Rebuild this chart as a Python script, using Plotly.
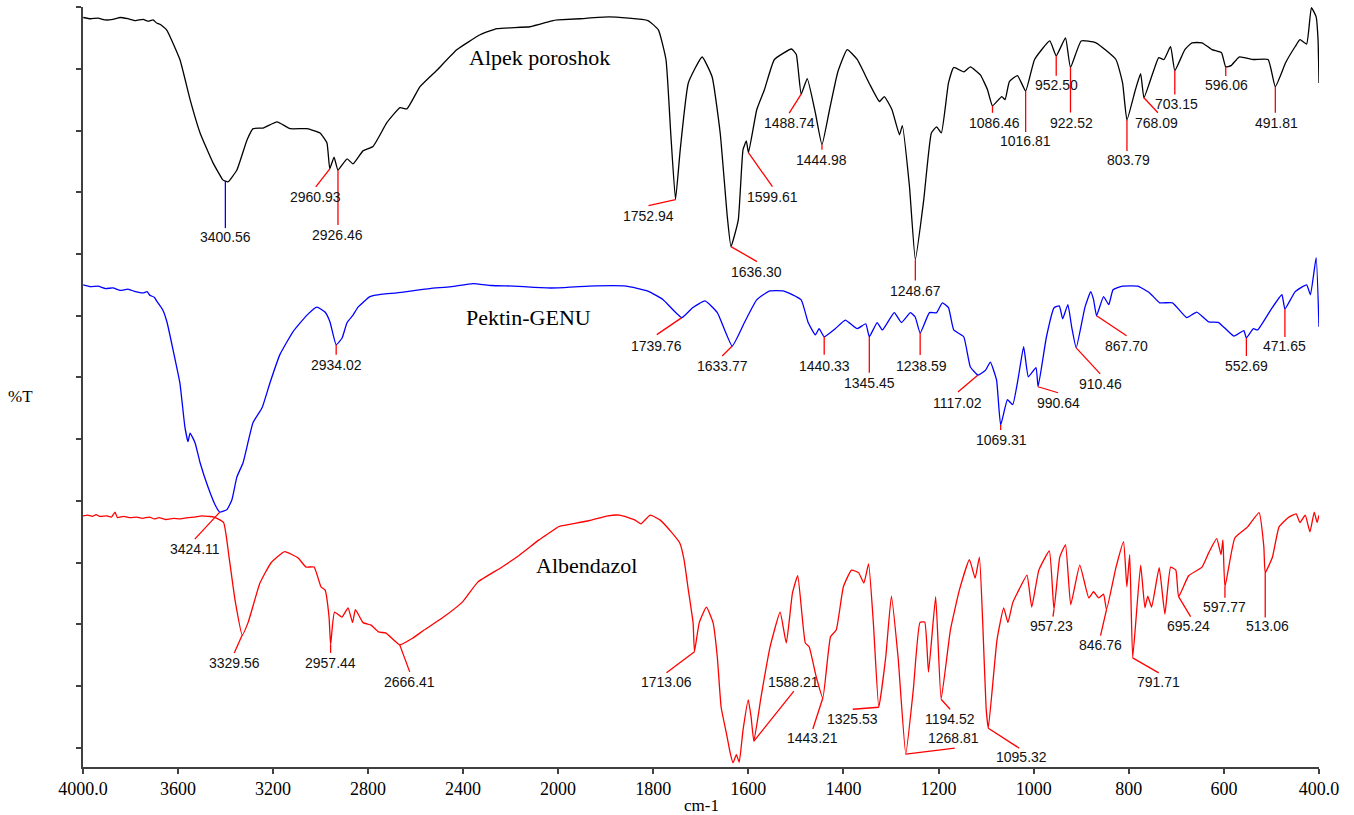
import numpy as np
import plotly.graph_objects as go

# FTIR spectra: (wavenumber cm-1, %T) pairs, spectra stacked with vertical offsets
ALPEK = [
    (3999, 118.3), (3968, 118.1), (3937, 118.2), (3905, 117.9), (3874, 118.0), (3843, 118.3),
    (3811, 118.1), (3779, 117.8), (3747, 118.0), (3725, 117.7), (3705, 117.9), (3690, 117.4),
    (3676, 117.2), (3648, 116.3), (3592, 111.5), (3549, 105.0), (3507, 99.6), (3453, 94.8),
    (3411, 92.0), (3400.56, 91.8), (3389, 91.7), (3352, 93.6), (3309, 98.5), (3284, 100.3),
    (3242, 100.4), (3183, 101.4), (3128, 100.3), (3057, 100.3), (3002, 99.6), (2973, 98.0),
    (2960.93, 93.8), (2943, 95.7), (2926.46, 93.6), (2888, 95.4), (2863, 94.6), (2821, 96.7),
    (2779, 97.4), (2720, 101.3), (2665, 103.7), (2636, 103.5), (2581, 107.1), (2509, 109.8),
    (2425, 113.1), (2328, 115.5), (2257, 116.5), (2118, 116.8), (2021, 117.8), (2000, 117.9),
    (1954, 118.1), (1893, 118.4), (1811, 117.8), (1789, 116.3), (1773, 111.5), (1763, 99.6),
    (1752.94, 88.8), (1743, 96.9), (1726, 107.7), (1697, 111.9), (1676, 108.7), (1659, 99.6),
    (1644, 86.0), (1636.30, 81.2), (1621, 85.5), (1611, 96.9), (1604, 98.3), (1599.61, 96.4),
    (1582, 103.4), (1566, 106.6), (1545, 111.5), (1509, 113.2), (1499, 112.3), (1488.74, 105.9),
    (1476, 108.4), (1459, 102.9), (1444.98, 97.7), (1429, 103.4), (1412, 109.4), (1392, 113.1),
    (1371, 111.5), (1346, 107.7), (1324, 104.7), (1314, 105.5), (1298, 103.4), (1282, 99.3),
    (1276, 100.8), (1261, 90.9), (1248.67, 79.1), (1231, 88.8), (1215, 99.6), (1204, 100.6),
    (1194, 99.6), (1179, 107.7), (1168, 110.2), (1147, 109.5), (1133, 110.3), (1112, 109.0),
    (1097, 106.6), (1086.46, 104.0), (1067, 105.5), (1060, 105.0), (1051, 107.9), (1034, 108.9),
    (1016.81, 106.4), (998, 111.5), (966, 114.5), (952.50, 112.1), (933, 115.0), (922.52, 110.2),
    (900, 114.5), (869, 114.2), (827, 111.5), (813, 107.7), (803.79, 101.7), (786, 106.6),
    (775, 109.2), (768.09, 105.3), (749, 109.4), (737, 111.8), (726, 111.5), (712, 113.6),
    (703.15, 109.7), (682, 113.1), (667, 114.2), (646, 114.2), (625, 113.1), (605, 112.6),
    (596.06, 110.3), (585, 110.5), (568, 111.9), (538, 111.5), (507, 111.5), (491.81, 107.1),
    (470, 111.0), (450, 113.6), (440, 114.7), (426, 114.0), (416, 119.9), (406, 118.4),
    (402, 114.7), (400, 107.7),
]

PEKTIN = [
    (3999, 75.0), (3968, 74.7), (3937, 74.8), (3905, 74.4), (3874, 74.5), (3843, 74.1),
    (3811, 74.3), (3779, 73.9), (3747, 73.7), (3730, 73.9), (3718, 73.3), (3700, 73.0),
    (3688, 72.3), (3665, 71.0), (3646, 68.9), (3621, 64.5), (3592, 59.1), (3571, 52.0),
    (3558, 49.6), (3549, 51.0), (3528, 49.4), (3507, 46.2), (3474, 42.3), (3444, 39.4),
    (3424.11, 38.2), (3394, 38.6), (3373, 40.2), (3352, 43.9), (3326, 46.2), (3284, 52.7),
    (3246, 55.1), (3213, 59.1), (3171, 63.7), (3116, 67.4), (3057, 70.1), (3015, 71.4),
    (2981, 70.6), (2960, 69.0), (2934.02, 65.3), (2909, 66.4), (2888, 68.9), (2863, 70.1),
    (2842, 71.4), (2792, 73.1), (2740, 73.5), (2678, 73.7), (2600, 74.1), (2539, 74.4),
    (2450, 74.7), (2358, 75.2), (2280, 74.9), (2189, 74.8), (2100, 74.6), (2046, 74.5),
    (2000, 74.5), (1935, 74.8), (1857, 74.8), (1811, 74.0), (1779, 72.6), (1739.76, 69.7),
    (1717, 71.3), (1691, 72.4), (1665, 70.5), (1633.77, 65.1), (1608, 68.9), (1582, 72.6),
    (1556, 74.0), (1525, 74.0), (1489, 72.6), (1474, 68.9), (1459, 66.9), (1451, 67.9),
    (1440.33, 66.6), (1417, 67.9), (1396, 69.3), (1371, 67.9), (1353, 68.7), (1345.45, 66.6),
    (1329, 68.9), (1318, 67.7), (1293, 70.5), (1278, 68.9), (1259, 70.5), (1249, 69.8),
    (1238.59, 67.2), (1219, 70.5), (1204, 70.5), (1192, 72.1), (1179, 71.3), (1168, 67.7),
    (1147, 66.6), (1133, 61.7), (1117.02, 60.4), (1101, 61.2), (1091, 62.5), (1078, 59.6),
    (1069.31, 52.3), (1055, 56.4), (1044, 55.6), (1032, 60.1), (1021, 65.0), (1011, 60.1),
    (995, 61.6), (990.64, 58.5), (973, 66.6), (957, 71.3), (946, 71.6), (939, 69.5),
    (928, 71.8), (920, 68.2), (910.46, 64.8), (892, 71.4), (880, 73.9), (874, 72.6),
    (867.70, 70.0), (853, 73.1), (842, 71.8), (833, 74.2), (813, 74.8), (781, 74.8),
    (756, 73.7), (735, 72.1), (708, 72.1), (678, 69.7), (657, 70.6), (632, 69.0),
    (611, 68.9), (579, 66.7), (558, 67.6), (552.69, 66.4), (538, 67.9), (529, 67.7),
    (501, 71.0), (478, 73.4), (471.65, 71.1), (450, 73.9), (426, 75.0), (418, 73.4),
    (406, 79.4), (400, 68.2),
]

ALBENDAZOL = [
    (4000, 37.6), (3980, 37.7), (3960, 37.5), (3945, 37.8), (3930, 37.5), (3900, 37.6),
    (3880, 37.4), (3865, 38.2), (3855, 37.3), (3830, 37.5), (3800, 37.3), (3775, 37.4),
    (3750, 37.2), (3720, 37.4), (3700, 37.1), (3680, 37.3), (3650, 37.0), (3620, 37.2),
    (3590, 37.1), (3560, 37.3), (3530, 37.4), (3500, 37.6), (3470, 37.5), (3448, 37.4),
    (3408, 36.5), (3385, 30.9), (3360, 24.0), (3329.56, 18.3), (3305, 20.3), (3255, 26.7),
    (3208, 30.0), (3151, 31.8), (3095, 30.8), (3061, 29.3), (3027, 29.3), (2998, 26.1),
    (2981, 25.6), (2964, 21.2), (2957.44, 16.7), (2941, 22.0), (2910, 21.2), (2884, 22.7),
    (2865, 20.3), (2853, 22.4), (2821, 20.3), (2787, 19.9), (2756, 18.8), (2724, 18.6),
    (2666.41, 16.7), (2611, 17.8), (2564, 19.1), (2482, 21.2), (2401, 23.7), (2337, 26.9),
    (2240, 29.2), (2160, 31.3), (2080, 33.7), (2000, 35.8), (1992, 36.0), (1935, 36.8),
    (1895, 37.6), (1870, 37.7), (1838, 36.9), (1826, 36.3), (1806, 37.7), (1785, 36.9),
    (1762, 35.0), (1744, 33.2), (1735, 30.5), (1726, 25.6), (1716, 20.3), (1713.06, 15.6),
    (1703, 20.3), (1688, 22.8), (1674, 20.3), (1665, 14.7), (1657, 6.6), (1646, 2.4),
    (1638, -0.8), (1632, -2.4), (1625, -1.1), (1619, -2.3), (1611, 2.9), (1600, 7.8),
    (1594, 5.0), (1588.21, 1.1), (1573, 8.3), (1554, 16.4), (1533, 22.0), (1520, 17.0),
    (1507, 25.1), (1496, 27.9), (1480, 17.0), (1472, 16.4), (1457, 11.5), (1443.21, 8.1),
    (1427, 18.0), (1415, 19.1), (1400, 26.1), (1383, 28.8), (1368, 28.4), (1357, 26.7),
    (1347, 29.8), (1337, 20.3), (1325.53, 6.6), (1311, 14.7), (1299, 24.6), (1285, 14.7),
    (1268.81, -1.0), (1253, 9.4), (1239, 20.3), (1229, 20.4), (1221, 12.3), (1206, 24.5),
    (1194.52, 7.9), (1175, 19.1), (1156, 25.6), (1135, 30.5), (1123, 27.5), (1114, 30.9),
    (1107, 20.3), (1100, 6.6), (1095.32, 3.2), (1077, 17.5), (1063, 22.7), (1054, 20.3),
    (1044, 23.5), (1031, 25.6), (1014, 28.0), (1004, 22.8), (989, 28.8), (967, 31.9),
    (957.23, 22.4), (945, 30.9), (933, 32.9), (922, 23.2), (903, 29.6), (884, 24.3),
    (874, 25.3), (863, 24.3), (853, 24.9), (846.76, 22.4), (827, 29.2), (811, 33.4),
    (804, 26.1), (798, 31.3), (791.71, 14.6), (775, 29.6), (766, 22.7), (760, 24.6),
    (752, 22.8), (736, 29.2), (724, 21.7), (712, 29.3), (701, 28.8), (695.24, 24.5),
    (674, 27.9), (646, 29.3), (632, 31.6), (615, 33.9), (606, 31.3), (602, 33.7),
    (597.77, 26.1), (577, 34.0), (550, 35.8), (526, 38.1), (516, 32.6), (513.06, 28.4),
    (498, 30.9), (484, 35.8), (465, 37.3), (448, 37.9), (440, 36.5), (429, 37.7),
    (419, 35.0), (410, 38.2), (404, 36.5), (400, 37.7),
]

# Labelled band positions (cm-1)
ALPEK_PEAKS = [3400.56, 2960.93, 2926.46, 1752.94, 1636.30, 1599.61, 1488.74, 1444.98, 1248.67,
               1086.46, 1016.81, 952.50, 922.52, 803.79, 768.09, 703.15, 596.06, 491.81]
PEKTIN_PEAKS = [3424.11, 2934.02, 1739.76, 1633.77, 1440.33, 1345.45, 1238.59, 1117.02, 1069.31,
                990.64, 910.46, 867.70, 552.69, 471.65]
ALBENDAZOL_PEAKS = [3329.56, 2957.44, 2666.41, 1713.06, 1588.21, 1443.21, 1325.53, 1268.81,
                    1194.52, 1095.32, 957.23, 846.76, 791.71, 695.24, 597.77, 513.06]

# Leader geometry in screen pixels (down is positive): line end dx, dy; text dx, dy
ALPEK_LEADERS = [(0, 47, 0, 56), (-14, 18, -14, 28), (0, 55, 0, 65), (-27, 6, -27, 16),
                 (26, 15, 26, 25), (24, 34, 24, 44), (-12, 19, -12, 29), (0, 5, 0, 15),
                 (0, 21, 0, 31), (0, 7, 2, 17), (0, 41, 0, 50), (0, 20, 0, 29), (0, 45, 1, 55),
                 (0, 31, 2, 40), (14, 15, 13, 25), (0, 24, 2, 33), (0, 9, 1, 18), (0, 26, 1, 36)]
PEKTIN_LEADERS = [(-25, 27, -25, 37), (0, 10, 0, 20), (-25, 17, -25, 28), (-10, 10, -10, 20),
                  (0, 18, 0, 29), (0, 36, 0, 46), (0, 22, 1, 33), (-20, 17, -20, 28),
                  (0, 5, 1, 15), (20, 6, 20, 16), (24, 26, 24, 36), (30, 20, 30, 30),
                  (0, 18, 0, 28), (0, 28, 0, 37)]
ALBENDAZOL_LEADERS = [(-8, 18, -8, 28), (0, 8, 0, 18), (10, 27, 10, 37), (-28, 21, -28, 30),
                      (40, -50, 40, -59), (-10, 31, -10, 40), (-26, 2, -26, 12), (49, -6, 48, -16),
                      (9, 10, 9, 20), (31, 20, 33, 29), (-1, 7, -2, 16), (-6, 26, -6, 35),
                      (26, 15, 26, 24), (12, 20, 10, 29), (0, 11, 0, 20), (0, 45, 2, 53)]

X_TICKS_HIGH = [4000, 3600, 3200, 2800, 2400, 2000]
X_TICKTEXT_HIGH = ["4000.0", "3600", "3200", "2800", "2400", "2000"]
X_TICKS_LOW = [1800, 1600, 1400, 1200, 1000, 800, 600, 400]
X_TICKTEXT_LOW = ["1800", "1600", "1400", "1200", "1000", "800", "600", "400.0"]
Y_TICKS = list(range(0, 121, 10))

BREAK = 2000          # scale expands 2x below this wavenumber
SPLIT = 475 / 1236    # fraction of plot width used by 4000-2000

SERIF = "Liberation Serif, Times New Roman, serif"
SANS = "Liberation Sans, Arial, sans-serif"
AXIS_COLOR = "#404040"

fig = go.Figure()


def add_spectrum(pairs, color):
    wn = np.array([p[0] for p in pairs], dtype=float)
    t = np.array([p[1] for p in pairs], dtype=float)
    hi = wn >= BREAK
    lo = wn <= BREAK
    for mask, xa in ((hi, "x"), (lo, "x2")):
        fig.add_trace(go.Scatter(x=wn[mask], y=t[mask], xaxis=xa, yaxis="y", mode="lines",
                                 line=dict(color=color, width=1.3, shape="spline",
                                           smoothing=0.4),
                                 hoverinfo="skip", showlegend=False))
    return wn, t


def add_peaks(wn, t, peaks, leaders, line_colors):
    for w, (dx, dy, tdx, tdy), lc in zip(peaks, leaders, line_colors):
        xref = "x" if w >= BREAK else "x2"
        yv = float(np.interp(w, wn[::-1], t[::-1]))
        fig.add_shape(type="line", xref=xref, yref="y", xsizemode="pixel", ysizemode="pixel",
                      xanchor=w, yanchor=yv, x0=0, x1=dx, y0=0, y1=-dy,
                      line=dict(color=lc, width=1.3))
        fig.add_annotation(x=w, y=yv, xref=xref, yref="y", text=f"{w:.2f}", showarrow=False,
                           xshift=tdx, yshift=-tdy, xanchor="center", yanchor="middle",
                           font=dict(family=SANS, size=14, color="#111111"))


wa, ta = add_spectrum(ALPEK, "#000000")
wp, tp = add_spectrum(PEKTIN, "#0000ff")
wb, tb = add_spectrum(ALBENDAZOL, "#ff0000")

add_peaks(wa, ta, ALPEK_PEAKS, ALPEK_LEADERS,
          ["#0000ff" if p == 3400.56 else "#ff0000" for p in ALPEK_PEAKS])
add_peaks(wp, tp, PEKTIN_PEAKS, PEKTIN_LEADERS, ["#ff0000"] * len(PEKTIN_PEAKS))
add_peaks(wb, tb, ALBENDAZOL_PEAKS, ALBENDAZOL_LEADERS, ["#ff0000"] * len(ALBENDAZOL_PEAKS))

# Sample names
for name, w, v in (("Alpek poroshok", 2076, 111.8), ("Pektin-GENU", 2126, 69.7)):
    fig.add_annotation(x=w, y=v, xref="x", yref="y", text=name, showarrow=False,
                       xanchor="center", yanchor="middle",
                       font=dict(family=SERIF, size=22, color="#000000"))
fig.add_annotation(x=1941, y=29.6, xref="x2", yref="y", text="Albendazol", showarrow=False,
                   xanchor="center", yanchor="middle",
                   font=dict(family=SERIF, size=22, color="#000000"))

# Axis titles
fig.add_annotation(x=0.5, y=-0.0513, xref="paper", yref="paper", text="cm-1", showarrow=False,
                   xanchor="center", yanchor="middle",
                   font=dict(family=SERIF, size=17, color="#000000"))
fig.add_annotation(x=-0.0502, y=0.487, xref="paper", yref="paper", text="%T", showarrow=False,
                   xanchor="center", yanchor="middle",
                   font=dict(family=SERIF, size=17, color="#000000"))

common_x = dict(showgrid=False, zeroline=False, showline=True, linecolor=AXIS_COLOR,
                linewidth=1.5, ticks="outside", ticklen=5, tickwidth=1.5, tickcolor=AXIS_COLOR,
                tickfont=dict(family=SERIF, size=18, color="#000000"), anchor="y")

fig.update_layout(
    width=1354, height=815,
    margin=dict(l=83, r=35, t=7, b=48),
    paper_bgcolor="white", plot_bgcolor="white",
    showlegend=False,
    xaxis=dict(domain=[0, SPLIT], range=[4000, 2000], tickmode="array",
               tickvals=X_TICKS_HIGH, ticktext=X_TICKTEXT_HIGH, **common_x),
    xaxis2=dict(domain=[SPLIT, 1], range=[2000, 400], tickmode="array",
                tickvals=X_TICKS_LOW, ticktext=X_TICKTEXT_LOW, **common_x),
    yaxis=dict(range=[-3.08, 120], tickmode="array", tickvals=Y_TICKS, showticklabels=False,
               showgrid=False, zeroline=False, showline=True, linecolor=AXIS_COLOR,
               linewidth=1.5, ticks="outside", ticklen=5, tickwidth=1.5,
               tickcolor=AXIS_COLOR, anchor="x"),
)

fig.write_html("out.html", config={"displayModeBar": False})
